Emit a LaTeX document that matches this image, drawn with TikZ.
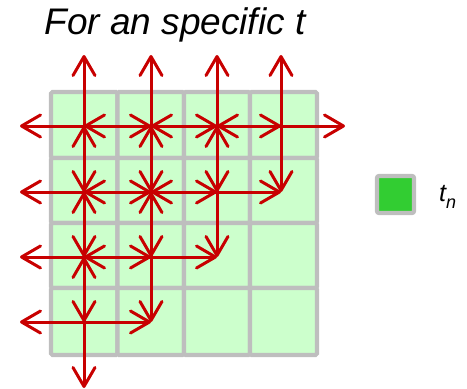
\documentclass[tikz,border=0pt]{standalone}
\usepackage{fontspec}
\setmainfont{Liberation Sans}
\usetikzlibrary{arrows.meta}
\definecolor{arrowred}{RGB}{200,0,0}
\definecolor{cellgreen}{RGB}{204,255,204}
\definecolor{cellgray}{RGB}{190,190,190}
\definecolor{legendgreen}{RGB}{50,205,50}
\begin{document}
\begin{tikzpicture}[x=1pt,y=-1pt,
  cell/.style={fill=cellgreen,draw=cellgray,line width=4.2pt,rounded corners=1.5pt},
  flow/.style={draw=arrowred,line width=3pt,line cap=round,-{Straight Barb[length=19pt,width=22pt,round]}},
  legbox/.style={draw=cellgray,fill=legendgreen,line width=4.2pt,minimum size=37pt,inner sep=0pt,rounded corners=2pt}]
\useasboundingbox (0,0) rectangle (467,389);
% grid cells
\foreach \ya/\yb [count=\r] in {92/158,158/223,223/288,288/355}{
  \foreach \xa/\xb [count=\c] in {51/117.5,117.5/184,184/250,250/317}{
    \draw[cell] (\xa,\ya) rectangle (\xb,\yb);
  }
}
% cell centres
\foreach \yy [count=\r] in {126,192,257,322}{
  \foreach \xx [count=\c] in {84,151,217,281}{
    \coordinate (p-\r-\c) at (\xx,\yy);
  }
}
% outer end points
\foreach \xx [count=\c] in {84,151,217,281}{\coordinate (up-\c) at (\xx,55);}
\foreach \yy [count=\r] in {126,192,257,322}{\coordinate (left-\r) at (20,\yy);}
\coordinate (right-1) at (345,126);
\coordinate (down-1) at (84,388);
% arrows
\foreach \s/\t in {
  p-1-1/up-1, p-1-1/left-1, p-1-1/p-1-2, p-1-1/p-2-1,
  p-1-2/up-2, p-1-2/p-1-1, p-1-2/p-1-3, p-1-2/p-2-2,
  p-1-3/up-3, p-1-3/p-1-2, p-1-3/p-1-4, p-1-3/p-2-3,
  p-1-4/up-4, p-1-4/p-1-3, p-1-4/right-1, p-1-4/p-2-4,
  p-2-1/p-1-1, p-2-1/left-2, p-2-1/p-2-2, p-2-1/p-3-1,
  p-2-2/p-1-2, p-2-2/p-2-1, p-2-2/p-2-3, p-2-2/p-3-2,
  p-2-3/p-1-3, p-2-3/p-2-2, p-2-3/p-2-4, p-2-3/p-3-3,
  p-3-1/p-2-1, p-3-1/left-3, p-3-1/p-3-2, p-3-1/p-4-1,
  p-3-2/p-2-2, p-3-2/p-3-1, p-3-2/p-3-3, p-3-2/p-4-2,
  p-4-1/p-3-1, p-4-1/left-4, p-4-1/p-4-2, p-4-1/down-1}{
  \draw[flow] (\s) -- (\t);
}
% title
\node (title) at (175,25) {\fontsize{37}{40}\selectfont\itshape For an specific t};
% legend
\node[legbox] (legsq) at (395.5,194.5) {};
\node[anchor=west,inner sep=0pt] (leglabel) at (439,197) {\fontsize{25}{28}\selectfont\itshape t\raisebox{-0.3em}{\fontsize{18}{20}\selectfont n}};
\end{tikzpicture}
\end{document}
